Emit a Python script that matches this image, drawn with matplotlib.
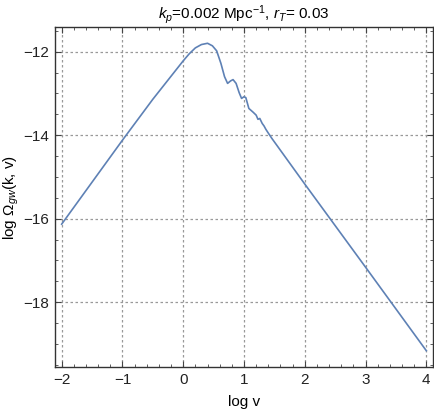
import matplotlib
matplotlib.use('Agg')
import matplotlib.pyplot as plt
from matplotlib.ticker import MultipleLocator

plt.rcParams['font.family'] = ['Liberation Sans', 'DejaVu Sans']
plt.rcParams['mathtext.fontset'] = 'custom'
plt.rcParams['mathtext.rm'] = 'Liberation Sans'
plt.rcParams['mathtext.it'] = 'Liberation Sans:italic'

# curve (log v, log Omega_gw)
log_v = [-2.0, -1.0, -0.5, -0.25, 0.0, 0.1, 0.2, 0.3, 0.4, 0.48, 0.55, 0.62,
         0.68, 0.73, 0.78, 0.82, 0.87, 0.92, 0.96, 1.0, 1.03, 1.08, 1.15, 1.2,
         1.23, 1.26, 1.3, 1.33, 1.36, 1.4, 1.46, 2.0, 3.0, 4.0]
log_omega = [-16.13, -14.12, -13.14, -12.68, -12.22, -12.05, -11.91, -11.83,
             -11.80, -11.86, -11.98, -12.28, -12.60, -12.76, -12.70, -12.67,
             -12.76, -12.98, -13.12, -13.08, -13.10, -13.36, -13.45, -13.52,
             -13.62, -13.60, -13.72, -13.78, -13.86, -13.95, -14.08, -15.17,
             -17.16, -19.16]

x_ticks = [-2, -1, 0, 1, 2, 3, 4]
y_ticks = [-18, -16, -14, -12]

fig = plt.figure(figsize=(4.35, 4.09), dpi=100)
ax = fig.add_axes([0.1264, 0.1027, 0.869, 0.8313])

ax.plot(log_v, log_omega, color='#5E81B5', lw=1.2)

ax.set_xlim(-2.11, 4.11)
ax.set_ylim(-19.55, -11.41)
ax.set_xticks(x_ticks)
ax.set_yticks(y_ticks)
ax.set_xticklabels(['\u2212%d' % -t if t < 0 else str(t) for t in x_ticks])
ax.set_yticklabels(['\u2212%d' % -t for t in y_ticks])
ax.xaxis.set_minor_locator(MultipleLocator(0.2))
ax.yaxis.set_minor_locator(MultipleLocator(0.5))
ax.tick_params(which='both', direction='in', top=True, right=True,
               labelsize=11, color='#444444', labelcolor='#222222', pad=4)
ax.tick_params(which='major', length=4, width=0.8)
ax.tick_params(which='minor', length=2, width=0.6)
for s in ax.spines.values():
    s.set_color('#333333')
    s.set_linewidth(1.0)

ax.grid(True, which='major', color='#999999', linestyle=(0, (2, 2)), lw=0.9)

ax.set_title(r'$k_p$=0.002 Mpc$^{-1}$, $r_T$= 0.03', fontsize=11, pad=6)
ax.set_xlabel('log v', fontsize=11, labelpad=6)
ax.set_ylabel(r'log $\Omega_{gw}$(k, v)', fontsize=11, labelpad=2)

fig.savefig('out.png', dpi=100)
